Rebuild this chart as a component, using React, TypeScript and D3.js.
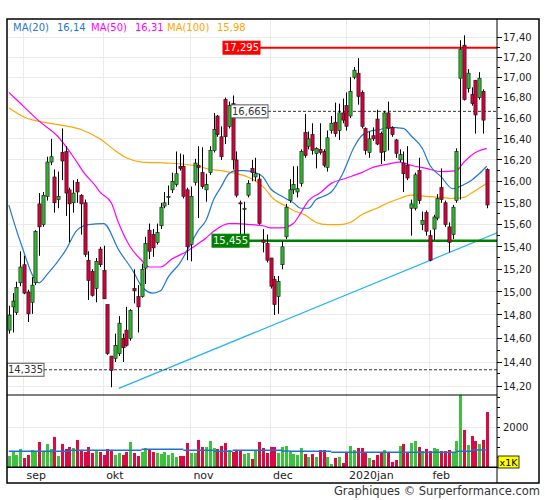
import * as d3 from "d3";

// daily candles, late Aug 2019 - 21 Feb 2020
const opens = [
  14.67, 14.87, 14.82, 15.08, 15.24, 15.0, 14.91, 15.08, 15.79, 15.6,
  15.86, 16.18, 16.04, 15.83, 16.27, 16.28, 15.92, 15.8, 15.99, 15.87,
  15.8, 15.28, 15.18, 15.03, 15.38, 15.19, 14.89, 14.45, 14.43, 14.47,
  14.6, 14.67, 14.6, 15.03, 14.96, 14.96, 15.21, 15.55, 15.51, 15.44,
  15.59, 15.77, 15.85, 15.92, 15.97, 16.14, 16.14, 15.92, 15.42, 15.99,
  16.15, 16.08, 15.92, 16.08, 16.29, 16.62, 16.42, 16.78, 16.52, 16.74,
  16.2, 15.8, 15.74, 15.87, 16.12, 16.04, 16.02, 15.46, 15.43, 15.3,
  15.11, 14.96, 15.24, 15.49, 15.82, 15.92, 15.9, 15.98, 16.46, 16.33,
  16.44, 16.26, 16.3, 16.28, 16.13, 16.48, 16.56, 16.48, 16.65, 16.72,
  16.62, 17.0, 17.04, 16.85, 16.5, 16.27, 16.43, 16.59, 16.45, 16.28,
  16.65, 16.51, 16.39, 16.2, 16.17, 16.15, 15.75, 15.75, 16.1, 15.6,
  15.71, 15.5, 15.56, 15.66, 15.94, 15.8, 15.58, 15.51, 15.82, 16.99,
  17.32, 16.89, 16.83, 16.97, 16.8, 16.86, 16.11,
];
const highs = [
  14.88, 14.99, 15.09, 15.36, 15.32, 15.02, 15.13, 15.55, 15.89, 15.9,
  16.23, 16.4, 16.11, 16.09, 16.5, 16.33, 15.94, 16.01, 16.02, 15.88,
  15.83, 15.36, 15.2, 15.3, 15.4, 15.41, 14.89, 14.45, 14.64, 14.79,
  14.64, 14.87, 14.85, 15.2, 15.06, 15.25, 15.49, 15.61, 15.56, 15.61,
  15.8, 15.9, 15.96, 16.08, 16.28, 16.26, 16.25, 15.94, 15.95, 16.21,
  16.33, 16.32, 16.07, 16.33, 16.65, 16.63, 16.52, 16.8, 16.76, 16.82,
  16.28, 15.82, 15.81, 16.01, 16.2, 16.22, 16.07, 15.56, 15.51, 15.3,
  15.14, 15.14, 15.45, 15.79, 16.02, 16.14, 16.14, 16.3, 16.64, 16.47,
  16.55, 16.32, 16.55, 16.3, 16.48, 16.62, 16.75, 16.74, 16.79, 16.85,
  17.0, 17.1, 17.19, 16.87, 16.51, 16.47, 16.51, 16.68, 16.47, 16.67,
  16.76, 16.52, 16.4, 16.3, 16.28, 16.33, 15.83, 16.08, 16.22, 15.72,
  15.73, 15.55, 15.69, 15.88, 16.12, 15.82, 15.62, 15.78, 16.31, 17.37,
  17.42, 17.08, 16.9, 16.97, 17.05, 16.88, 16.12,
];
const lows = [
  14.64, 14.65, 14.8, 15.05, 14.98, 14.74, 14.81, 15.06, 15.32, 15.58,
  15.82, 16.15, 15.71, 15.75, 16.01, 15.68, 15.44, 15.71, 15.8, 15.51,
  15.31, 14.93, 14.96, 14.91, 15.22, 14.94, 14.46, 14.19, 14.4, 14.45,
  14.4, 14.53, 14.58, 14.9, 14.65, 14.95, 15.07, 15.29, 15.31, 15.42,
  15.56, 15.75, 15.78, 15.89, 15.95, 16.1, 15.84, 15.28, 15.27, 15.96,
  15.66, 15.93, 15.81, 16.06, 16.27, 16.42, 16.2, 16.35, 16.5, 16.11,
  15.85, 15.5, 15.5, 15.85, 16.0, 16.0, 15.6, 15.35, 15.26, 15.03,
  14.8, 14.81, 15.2, 15.47, 15.8, 15.88, 15.85, 15.95, 16.22, 16.3,
  16.25, 16.12, 16.25, 16.13, 16.09, 16.45, 16.42, 16.39, 16.55, 16.48,
  16.6, 16.98, 16.73, 16.5, 16.25, 16.22, 16.38, 16.34, 16.16, 16.19,
  16.29, 16.42, 16.22, 16.18, 15.9, 16.01, 15.5, 15.73, 15.79, 15.55,
  15.5, 15.27, 15.46, 15.64, 15.8, 15.58, 15.35, 15.47, 15.8, 15.83,
  16.77, 16.85, 16.72, 16.45, 16.78, 16.45, 15.75,
];
const closes = [
  14.8, 14.92, 15.04, 15.22, 14.99, 14.81, 15.06, 15.54, 15.58, 15.87,
  16.18, 16.23, 15.8, 15.86, 16.19, 15.89, 15.79, 15.89, 15.9, 15.79,
  15.33, 15.1, 14.97, 15.27, 15.24, 14.94, 14.47, 14.33, 14.54, 14.73,
  14.52, 14.54, 14.84, 15.01, 14.87, 15.2, 15.43, 15.36, 15.39, 15.53,
  15.76, 15.8, 15.86, 16.0, 16.07, 16.12, 15.86, 15.4, 15.86, 16.17,
  16.13, 15.95, 15.97, 16.29, 16.49, 16.44, 16.23, 16.42, 16.72, 16.2,
  15.87, 15.79, 15.75, 15.98, 16.08, 16.07, 15.61, 15.44, 15.28, 15.05,
  14.89, 15.09, 15.4, 15.76, 15.92, 15.97, 15.93, 16.28, 16.24, 16.4,
  16.29, 16.31, 16.27, 16.15, 16.41, 16.55, 16.45, 16.65, 16.58, 16.52,
  16.86, 17.07, 16.81, 16.52, 16.29, 16.4, 16.4, 16.35, 16.27, 16.65,
  16.5, 16.44, 16.26, 16.25, 16.07, 16.03, 15.79, 16.06, 15.82, 15.64,
  15.54, 15.28, 15.67, 15.84, 15.83, 15.6, 15.44, 15.76, 16.28, 17.28,
  16.78, 17.04, 16.74, 16.63, 16.99, 16.58, 15.78,
];
// volumes, thousands
const volumes = [
  567, 783, 617, 917, 467, 617, 867, 817, 1267, 783,
  1167, 917, 1517, 567, 1167, 917, 1017, 967, 1367, 817,
  767, 1017, 717, 867, 767, 617, 917, 817, 617, 717,
  617, 767, 1267, 717, 567, 767, 967, 867, 767, 717,
  667, 767, 617, 717, 517, 567, 567, 1217, 717, 717,
  1367, 1017, 1017, 1317, 967, 917, 1067, 1217, 867, 767,
  867, 817, 667, 717, 417, 833, 1267, 967, 717, 1017,
  1017, 717, 1017, 1067, 817, 667, 617, 967, 667, 517,
  667, 517, 867, 867, 517, 167, 467, 517, 217, 767,
  1067, 867, 967, 967, 767, 467, 367, 617, 767, 867,
  767, 267, 367, 1067, 1167, 767, 1217, 1317, 1017, 817,
  917, 817, 967, 917, 817, 817, 867, 717, 1317, 3700,
  1867, 1117, 1567, 1317, 1167, 1367, 2767,
];
// [start day, end day, average volume]
const volAvg: [number, number, number][] = [
  [0, 16, 800], [16, 35, 850], [35, 46, 900], [46, 54, 850], [54, 59, 800],
  [59, 72, 850], [72, 74, 817], [74, 85, 800], [85, 118, 750],
  [118, 122, 800], [122, 126, 867],
];

// moving averages: [day, value]
const ma20: [number, number][] = [
  [0, 15.78], [3, 15.45], [8, 15.08], [10, 15.15], [15, 15.37], [18, 15.55],
  [21, 15.6], [25, 15.61], [29, 15.37], [33, 15.17], [35, 15.05], [38, 14.99],
  [40, 15.01], [42, 15.13], [45, 15.25], [48, 15.43], [50, 15.55], [52, 15.64],
  [54, 15.83], [56, 15.95], [58, 16.07], [60, 16.1], [62, 16.1], [65, 16.08],
  [67, 16.04], [69, 15.93], [72, 15.86], [75, 15.8], [77, 15.75], [79, 15.75],
  [81, 15.83], [83, 15.86], [85, 15.9], [88, 16.07], [91, 16.32], [93, 16.43],
  [95, 16.47], [98, 16.49], [100, 16.51], [104, 16.5], [106, 16.43],
  [109, 16.31], [111, 16.15], [114, 16.04], [117, 15.93], [120, 15.97],
  [122, 16.01], [124, 16.07], [126, 16.14],
];
const ma50: [number, number][] = [
  [0, 16.85], [2, 16.78], [8, 16.57], [13, 16.42], [17, 16.23], [20, 16.07],
  [23, 15.95], [24, 15.9], [27, 15.8], [29, 15.61], [32, 15.4], [35, 15.28],
  [37, 15.22], [40, 15.22], [43, 15.29], [47, 15.36], [50, 15.43], [52, 15.48],
  [54, 15.54], [58, 15.61], [60, 15.61], [64, 15.6], [67, 15.59], [69, 15.57],
  [72, 15.57], [75, 15.61], [77, 15.71], [79, 15.82], [82, 15.89], [85, 15.98],
  [89, 16.03], [93, 16.08], [96, 16.13], [100, 16.16], [103, 16.18],
  [106, 16.15], [110, 16.12], [114, 16.09], [118, 16.1], [120, 16.18],
  [123, 16.27], [126, 16.31],
];
const ma100: [number, number][] = [
  [0, 16.7], [4, 16.61], [9, 16.56], [14, 16.53], [19, 16.49], [24, 16.4],
  [28, 16.29], [31, 16.22], [35, 16.18], [42, 16.17], [46, 16.16], [50, 16.14],
  [53, 16.11], [56, 16.1], [60, 16.07], [63, 16.04], [67, 15.95], [70, 15.83],
  [73, 15.77], [75, 15.73], [78, 15.69], [81, 15.62], [84, 15.6], [87, 15.6],
  [90, 15.62], [93, 15.69], [97, 15.75], [100, 15.8], [103, 15.84],
  [106, 15.87], [110, 15.86], [114, 15.85], [117, 15.84], [120, 15.85],
  [122, 15.89], [126, 15.98],
];
const maNames = ["MA(20)", "MA(50)", "MA(100)"];

const trend: [number, number][] = [[29, 14.18], [129, 15.53]];

const levelValues = [17.295, 16.665, 15.455, 14.335];
const levelLabels = ["17,295", "16,665", "15,455", "14,335"];

const monthStarts = [4, 25, 48, 69, 89, 111];
const monthLabels = ["sep", "okt", "nov", "dec", "2020jan", "feb"];

const FONT = "DejaVu Sans, Verdana, sans-serif";
const UP = "#2fb82f";
const DOWN = "#d6003c";
const VOL_UP = "#3dc23d";
const VOL_DOWN = "#dc0a44";

const L = 7, R = 497, TOP = 19, MAIN_B = 395, VOL_B = 467.3, FRAME_B = 483;

const comma = (v: number, d = 2) => d3.format(`.${d}f`)(v).replace(".", ",");

export default function App() {
  const x = d3.scaleLinear().domain([0, 126]).range([8.8, 486.8]);
  const y = d3.scaleLog().domain([14.2, 17.4]).range([386, 37.3]);
  const yv = d3.scaleLinear().domain([0, 2000]).range([VOL_B, 427.3]);

  const maLine = d3
    .line<[number, number]>()
    .x(d => x(d[0]))
    .y(d => y(d[1]))
    .curve(d3.curveMonotoneX);

  const priceTicks = d3.range(142, 175).map(v => v / 10);
  const volTicks = d3.range(0, 3600, 500);

  const legend = [
    { name: maNames[0], val: ma20[ma20.length - 1][1], color: "#1f78d4", nx: 13, vx: 57 },
    { name: maNames[1], val: ma50[ma50.length - 1][1], color: "#ff00ff", nx: 91, vx: 135 },
    { name: maNames[2], val: ma100[ma100.length - 1][1], color: "#ffa500", nx: 167, vx: 217 },
  ];

  const levelStyle = [
    { box: 223, fill: "#ff0000", text: "#fff", stroke: "#ff0000", line: "#ff0000", w: 2, dash: "", from: "right" },
    { box: 231, fill: "#fff", text: "#333", stroke: "#555", line: "#333", w: 1, dash: "3,2", from: "right" },
    { box: 212, fill: "#008000", text: "#fff", stroke: "#008000", line: "#008000", w: 2.5, dash: "", from: "left" },
    { box: 7, fill: "#fff", text: "#333", stroke: "#555", line: "#333", w: 1, dash: "3,2", from: "right" },
  ];
  const boxW = 37, boxH = 13;
  const bw = 3.2;

  return (
    <svg
      width={545}
      height={500}
      style={{ position: "absolute", left: 0, top: 0, background: "#fff" }}
      fontFamily={FONT}
    >
      <defs>
        <clipPath id="mainClip">
          <rect x={L} y={TOP} width={R - L} height={MAIN_B - TOP} />
        </clipPath>
        <clipPath id="volClip">
          <rect x={L} y={MAIN_B} width={R - L} height={VOL_B - MAIN_B} />
        </clipPath>
      </defs>

      {/* grid */}
      <g stroke="#ebebeb" strokeWidth={1} shapeRendering="crispEdges">
        {priceTicks
          .filter(v => Math.round(v * 10) % 2 === 0)
          .map(v => (
            <line key={v} x1={L} x2={R} y1={y(v)} y2={y(v)} />
          ))}
        <line x1={L} x2={R} y1={yv(2000)} y2={yv(2000)} />
        {monthStarts.map(i => (
          <line key={i} x1={x(i)} x2={x(i)} y1={TOP} y2={VOL_B} />
        ))}
      </g>

      {/* main panel */}
      <g clipPath="url(#mainClip)">
        <path
          d={d3.line<[number, number]>().x(d => x(d[0])).y(d => y(d[1]))(trend) ?? ""}
          fill="none"
          stroke="#22b4f0"
          strokeWidth={1.2}
        />
        <path d={maLine(ma100) ?? ""} fill="none" stroke="#ffa500" strokeWidth={1.2} />
        <path d={maLine(ma50) ?? ""} fill="none" stroke="#ff00ff" strokeWidth={1.2} />
        <path d={maLine(ma20) ?? ""} fill="none" stroke="#1f78d4" strokeWidth={1.2} />

        {levelValues.map((v, k) => {
          const s = levelStyle[k];
          const yy = y(v);
          const x1 = s.from === "right" ? s.box + boxW : s.box;
          return (
            <line
              key={v}
              x1={x1}
              x2={R}
              y1={yy}
              y2={yy}
              stroke={s.line}
              strokeWidth={s.w}
              strokeDasharray={s.dash || undefined}
            />
          );
        })}

        {closes.map((c, i) => {
          const o = opens[i];
          const up = c >= o;
          const cx = Math.round(x(i)) + 0.5;
          const yt = y(Math.max(o, c));
          const yb = y(Math.min(o, c));
          return (
            <g key={i}>
              <line x1={cx} x2={cx} y1={y(highs[i])} y2={y(lows[i])} stroke="#000" strokeWidth={1} />
              <rect
                x={cx - bw / 2}
                y={yt}
                width={bw}
                height={Math.max(1, yb - yt)}
                fill={up ? UP : DOWN}
                stroke="#111"
                strokeWidth={0.6}
              />
            </g>
          );
        })}

        {levelValues.map((v, k) => {
          const s = levelStyle[k];
          const yy = y(v);
          return (
            <g key={v}>
              <rect
                x={s.box}
                y={yy - boxH / 2}
                width={boxW}
                height={boxH}
                fill={s.fill}
                stroke={s.stroke}
                strokeWidth={1}
              />
              <text
                x={s.box + boxW / 2}
                y={yy + 3.6}
                fontSize={10}
                fill={s.text}
                textAnchor="middle"
              >
                {levelLabels[k]}
              </text>
            </g>
          );
        })}
      </g>

      {/* volume panel */}
      <g clipPath="url(#volClip)">
        {volumes.map((v, i) => {
          const up = closes[i] >= opens[i];
          const cx = Math.round(x(i)) + 0.5;
          return (
            <rect
              key={i}
              x={cx - 1.5}
              y={yv(v)}
              width={3}
              height={VOL_B - yv(v)}
              fill={up ? VOL_UP : VOL_DOWN}
            />
          );
        })}
        {volAvg.map(([a, b, v], k) => (
          <line key={k} x1={x(a)} x2={x(b)} y1={yv(v)} y2={yv(v)} stroke="#1a74d2" strokeWidth={1.6} />
        ))}
      </g>

      {/* legend */}
      {legend.map(e => (
        <g key={e.name} fontSize={10} fill={e.color}>
          <text x={e.nx} y={31}>{e.name}</text>
          <text x={e.vx} y={31}>{comma(e.val)}</text>
        </g>
      ))}

      {/* right axis */}
      <g stroke="#000" strokeWidth={1} shapeRendering="crispEdges">
        {priceTicks.map(v => {
          const major = Math.round(v * 10) % 2 === 0;
          return <line key={v} x1={R} x2={R + (major ? 5 : 3)} y1={y(v)} y2={y(v)} />;
        })}
        {volTicks.map(v => (
          <line key={v} x1={R} x2={R + 3} y1={yv(v)} y2={yv(v)} />
        ))}
      </g>
      <g fontSize={10} fill="#222">
        {priceTicks
          .filter(v => Math.round(v * 10) % 2 === 0)
          .map(v => (
            <text key={v} x={R + 6} y={y(v) + 3.8}>
              {comma(v)}
            </text>
          ))}
        <text x={R + 6} y={yv(2000) + 3.8}>2000</text>
      </g>
      <rect x={R + 1} y={456} width={21} height={12} fill="#ffff00" stroke="#000" strokeWidth={0.8} />
      <text x={R + 11.5} y={465.5} fontSize={9.5} textAnchor="middle" fill="#000">x1K</text>

      {/* month labels */}
      <g fontSize={11} fill="#222">
        {monthStarts.map((i, k) => (
          <text key={i} x={x(i) + 2.5} y={479}>
            {monthLabels[k]}
          </text>
        ))}
      </g>

      {/* frame */}
      <g fill="none" stroke="#000">
        <rect x={L} y={TOP} width={539 - L} height={FRAME_B - TOP} strokeWidth={1.5} />
        <line x1={R} x2={R} y1={TOP} y2={FRAME_B} strokeWidth={1} />
        <line x1={L} x2={R} y1={MAIN_B} y2={MAIN_B} strokeWidth={1.2} />
        <line x1={L} x2={R} y1={VOL_B} y2={VOL_B} strokeWidth={1.5} />
      </g>

      <text x={540} y={495} fontSize={11.5} fill="#333" textAnchor="end">
        Graphiques © Surperformance.com
      </text>
    </svg>
  );
}
